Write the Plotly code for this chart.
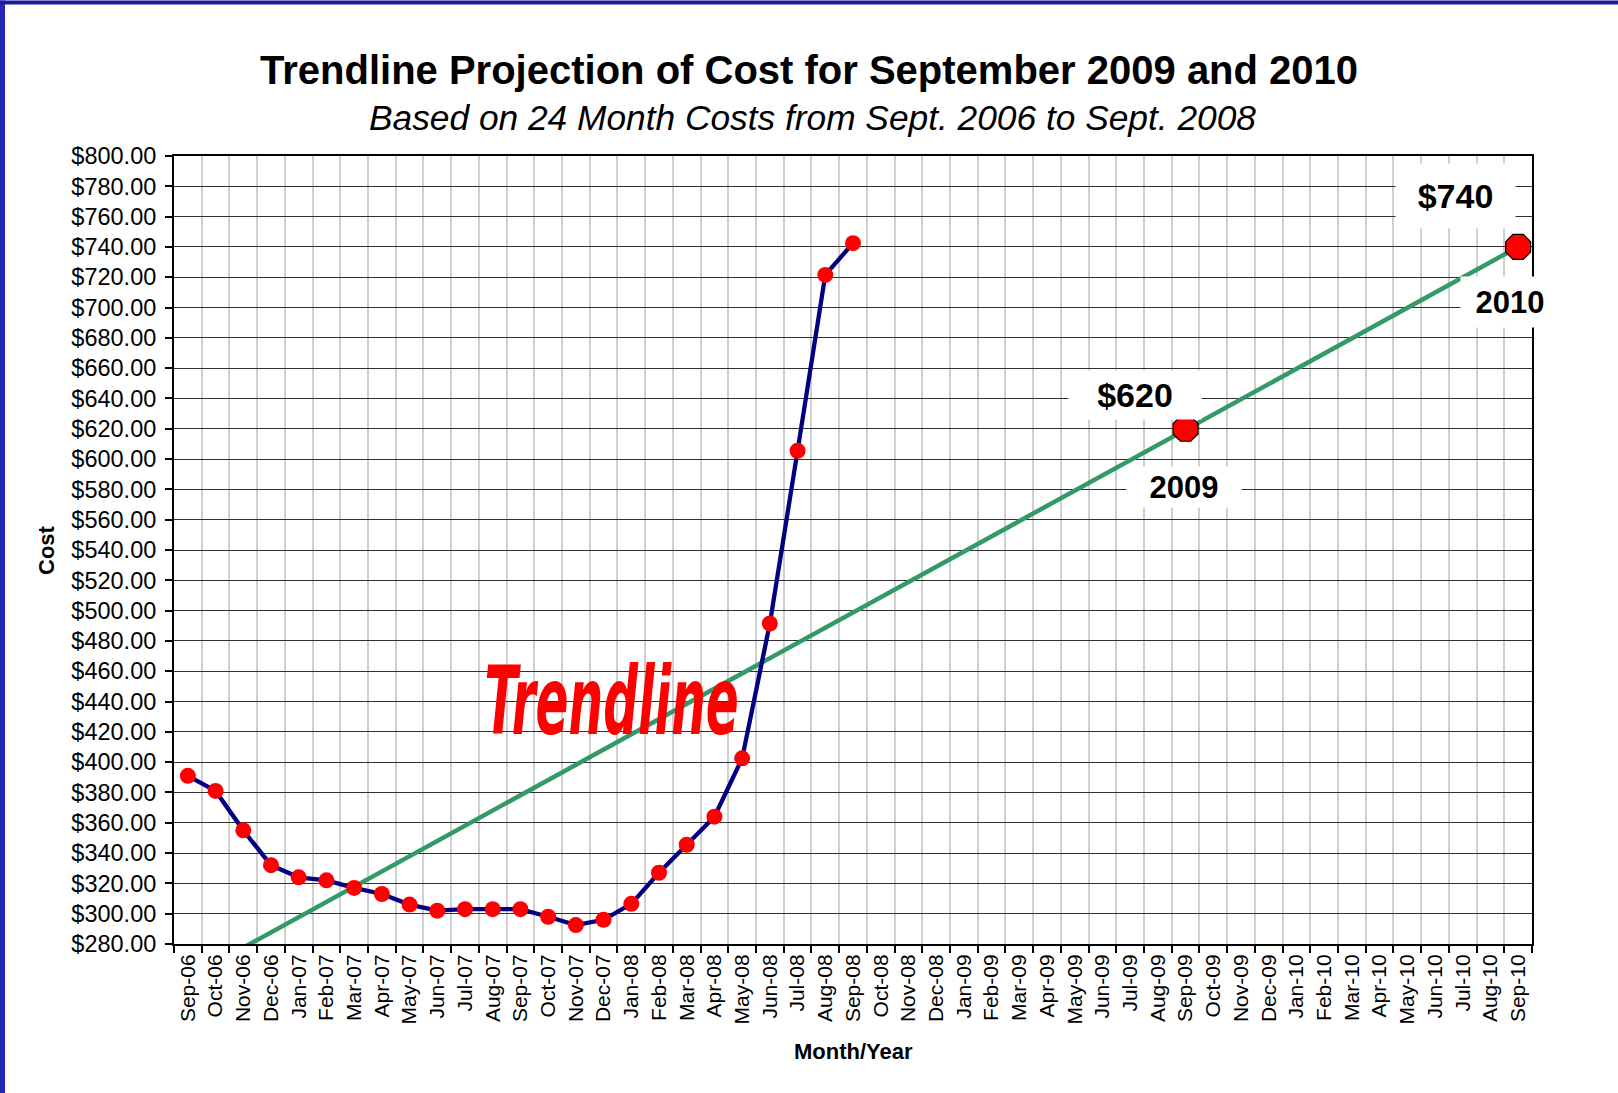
import plotly.graph_objects as go

# ---- data ----
months = ["Sep-06", "Oct-06", "Nov-06", "Dec-06", "Jan-07", "Feb-07", "Mar-07", "Apr-07",
          "May-07", "Jun-07", "Jul-07", "Aug-07", "Sep-07", "Oct-07", "Nov-07", "Dec-07",
          "Jan-08", "Feb-08", "Mar-08", "Apr-08", "May-08", "Jun-08", "Jul-08", "Aug-08",
          "Sep-08", "Oct-08", "Nov-08", "Dec-08", "Jan-09", "Feb-09", "Mar-09", "Apr-09",
          "May-09", "Jun-09", "Jul-09", "Aug-09", "Sep-09", "Oct-09", "Nov-09", "Dec-09",
          "Jan-10", "Feb-10", "Mar-10", "Apr-10", "May-10", "Jun-10", "Jul-10", "Aug-10",
          "Sep-10"]
cost_months = months[:25]
cost_values = [391, 381, 355, 332, 324, 322, 317, 313, 306, 302, 303, 303, 303,
               298, 292.5, 296, 306.5, 327, 345.5, 364, 402.5, 491.5, 605.5, 721.5, 742.5]
trend_months = ["Sep-06", "Sep-10"]
trend_values = [257.5, 740]
proj_months = ["Sep-09", "Sep-10"]
proj_values = [620, 740]
proj_cost_labels = ["$620", "$740"]
proj_year_labels = ["2009", "2010"]

W, H = 1618, 1093
L, R, T, B = 174, 86, 155.5, 149
PW, PH = W - L - R, H - T - B


def px(x):
    return (x - L) / PW


def py(y):
    return (H - B - y) / PH


FONT = "Liberation Sans, Arial, sans-serif"

fig = go.Figure()
fig.add_trace(go.Scatter(x=trend_months, y=trend_values, mode="lines",
                         line=dict(color="#339966", width=4.5), hoverinfo="skip"))
fig.add_trace(go.Scatter(x=cost_months, y=cost_values, mode="lines+markers",
                         line=dict(color="#000080", width=4.3),
                         marker=dict(color="#ff0000", size=16)))
fig.add_trace(go.Scatter(x=proj_months, y=proj_values, mode="markers",
                         marker=dict(symbol="octagon", color="#ff0000", size=27,
                                     line=dict(color="black", width=1.2)),
                         cliponaxis=False))

annotations = [
    dict(text="<b>Trendline Projection of Cost for September 2009 and 2010</b>",
         x=px(809), y=py(69), font=dict(size=40, color="black")),
    dict(text="<i>Based on 24 Month Costs from Sept. 2006 to Sept. 2008</i>",
         x=px(812), y=py(117), font=dict(size=35.3, color="black")),
    dict(text="<b>Month/Year</b>", x=0.5, y=py(1052), font=dict(size=22, color="black")),
    dict(text="<b>Cost</b>", x=px(46), y=0.5, textangle=-90, font=dict(size=22, color="black")),
    dict(text="<b><i>Trendline</i></b>", x=px(611), y=py(702),
         font=dict(size=72, color="#ff0000",
                   family="DejaVu Sans Condensed, DejaVu Sans, sans-serif")),
    dict(text="<b>" + proj_cost_labels[0] + "</b>", x=px(1135), y=py(395), width=130, height=46,
         bgcolor="white", font=dict(size=34, color="black")),
    dict(text="<b>" + proj_year_labels[0] + "</b>", x=px(1184), y=py(487), width=112, height=38,
         bgcolor="white", font=dict(size=31, color="black")),
    dict(text="<b>" + proj_cost_labels[1] + "</b>", x=px(1455), y=py(196), width=117, height=62,
         bgcolor="white", font=dict(size=34, color="black")),
    dict(text="<b>" + proj_year_labels[1] + "</b>", x=px(1510), y=py(302), width=96, height=48,
         bgcolor="white", font=dict(size=31, color="black")),
]
for a in annotations:
    a.update(xref="paper", yref="paper", showarrow=False, xanchor="center", yanchor="middle")

shapes = [
    dict(type="rect", xref="paper", yref="paper", x0=px(0), x1=px(5), y0=py(H), y1=py(0),
         fillcolor="#2525b8", line=dict(width=0), layer="above"),
    dict(type="rect", xref="paper", yref="paper", x0=px(0), x1=px(W), y0=py(4), y1=py(0),
         fillcolor="#1a1aa0", line=dict(width=0), layer="above"),
]

fig.update_layout(
    width=W, height=H,
    margin=dict(l=L, r=R, t=T, b=B, pad=0),
    paper_bgcolor="white", plot_bgcolor="white",
    showlegend=False,
    font=dict(family=FONT, color="black"),
    annotations=annotations,
    shapes=shapes,
    xaxis=dict(type="category", categoryorder="array", categoryarray=months,
               tickmode="array", tickvals=months, ticktext=months,
               range=[-0.5, len(months) - 0.5], tickson="boundaries",
               tickangle=-90, tickfont=dict(size=21, color="black"),
               ticks="outside", ticklen=7, tickwidth=1.5, tickcolor="black",
               showgrid=True, gridcolor="#cfcfcf", gridwidth=1.5,
               showline=True, linecolor="black", linewidth=2, mirror=True,
               zeroline=False, fixedrange=True),
    yaxis=dict(range=[280, 800], dtick=20, tick0=280, tickprefix="$", tickformat=".2f",
               tickfont=dict(size=23.5, color="black"),
               ticks="outside", ticklen=7, tickwidth=1.5, tickcolor="black",
               ticklabelstandoff=4,
               showgrid=True, gridcolor="#303030", gridwidth=1,
               showline=True, linecolor="black", linewidth=2, mirror=True,
               zeroline=False, fixedrange=True),
)

post = """
document.body.style.margin = '0';
document.body.style.overflow = 'hidden';
document.querySelectorAll('.annotation-text').forEach(function (el) {
  if (el.textContent === 'Trendline') {
    el.style.transformBox = 'fill-box';
    el.style.transformOrigin = 'center';
    el.style.transform = 'scale(0.75, 1.3)';
  }
});
"""

fig.write_html("out.html", post_script=post, config={"displayModeBar": False})
